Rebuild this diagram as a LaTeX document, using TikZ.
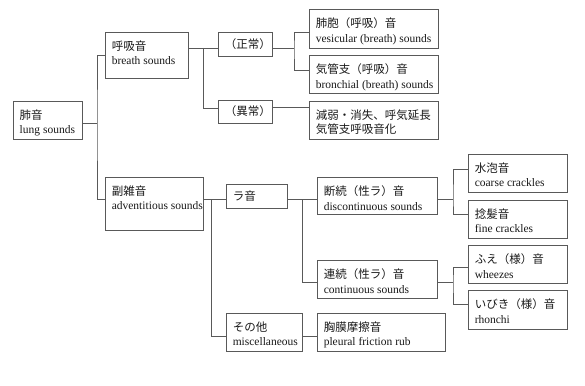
\documentclass[tikz,border=0pt]{standalone}
\usepackage{fontspec}
\setmainfont{Liberation Serif}
\newfontfamily\jp{Noto Sans CJK JP}
\newcommand\mybox[7]{%
  \node[box, minimum width={(#4-#2)*1pt}, minimum height={(#5-#3)*1pt}] (#1) at ({(#2+#4)/2},{(#3+#5)/2}) {};
  \node[txt, anchor=north west] (#1t) at ([xshift=7pt,yshift=-9pt]#1.north west) {#6\\#7};}
\newcommand\myone[6]{%
  \node[box, minimum width={(#4-#2)*1pt}, minimum height={(#5-#3)*1pt}] (#1) at ({(#2+#4)/2},{(#3+#5)/2}) {};
  \node[txt, anchor=west] (#1t) at ([xshift=7pt]#1.west) {#6};}
\begin{document}
\begin{tikzpicture}[x=1pt,y=-1pt,
  box/.style={draw=black!65, line width=0.9pt, inner sep=0pt},
  txt/.style={inner sep=0pt, align=left, font=\fontsize{11.5}{14.5}\selectfont, text=black!90},
  conn/.style={draw=black!65, line width=0.9pt}]
\useasboundingbox[fill=white] (0,0) rectangle (585,385);
\mybox{lung}{13}{101}{82}{139}{{\jp 肺音}}{lung sounds}
\mybox{breath}{105}{32}{188}{78}{{\jp 呼吸音}}{breath sounds}
\mybox{advent}{105}{177}{203}{230}{{\jp 副雑音}}{adventitious sounds}
\myone{normal}{218}{32}{272}{56}{{\jp （正常）}}
\myone{abnormal}{218}{100}{272}{123}{{\jp （異常）}}
\mybox{vesic}{309}{9}{438}{48}{{\jp 肺胞（呼吸）音}}{vesicular (breath) sounds}
\mybox{bronch}{309}{55}{438}{93}{{\jp 気管支（呼吸）音}}{bronchial (breath) sounds}
\mybox{decr}{309}{101}{438}{139}{{\jp 減弱・消失、呼気延長}}{{\jp 気管支呼吸音化}}
\myone{rale}{226}{184}{287}{208}{{\jp ラ音}}
\mybox{other}{226}{313}{302}{351}{{\jp その他}}{miscellaneous}
\mybox{discont}{317}{177}{437}{214}{{\jp 断続（性ラ）音}}{discontinuous sounds}
\mybox{cont}{317}{260}{437}{298}{{\jp 連続（性ラ）音}}{continuous sounds}
\mybox{pleural}{317}{313}{445}{351}{{\jp 胸膜摩擦音}}{pleural friction rub}
\mybox{coarse}{468}{154}{567}{192}{{\jp 水泡音}}{coarse crackles}
\mybox{fine}{468}{200}{567}{238}{{\jp 捻髪音}}{fine crackles}
\mybox{wheeze}{468}{245}{567}{283}{{\jp ふえ（様）音}}{wheezes}
\mybox{rhonchi}{468}{290}{567}{329}{{\jp いびき（様）音}}{rhonchi}
% junctions
\coordinate (j1) at (97,123);
\coordinate (j2) at (203,48);
\coordinate (j3) at (294,48);
\coordinate (j4) at (211,199);
\coordinate (j5) at (302,199);
\coordinate (j6) at (453,199);
\coordinate (j7) at (453,282);
\coordinate (y1) at (0,55);
\coordinate (y2) at (0,199);
\coordinate (y3) at (0,108);
\coordinate (y4) at (0,32);
\coordinate (y5) at (0,70);
\coordinate (y6) at (0,107);
\coordinate (y7) at (0,336);
\coordinate (y8) at (0,282);
\coordinate (y9) at (0,169);
\coordinate (y10) at (0,214);
\coordinate (y11) at (0,267);
\coordinate (y12) at (0,304);
% connectors
\draw[conn] (lung.east |- j1) -- (j1);
\draw[conn] (breath.west |- y1) -| (j1) |- (advent.west |- y2);
\draw[conn] (breath.east |- j2) -- (normal.west |- j2);
\draw[conn] (j2) |- (abnormal.west |- y3);
\draw[conn] (normal.east |- j3) -- (j3);
\draw[conn] (vesic.west |- y4) -| (j3) |- (bronch.west |- y5);
\draw[conn] (abnormal.east |- y6) -- (decr.west |- y6);
\draw[conn] (advent.east |- j4) -- (rale.west |- j4);
\draw[conn] (j4) |- (other.west |- y7);
\draw[conn] (rale.east |- j5) -- (discont.west |- j5);
\draw[conn] (j5) |- (cont.west |- y8);
\draw[conn] (other.east |- y7) -- (pleural.west |- y7);
\draw[conn] (discont.east |- j6) -- (j6);
\draw[conn] (coarse.west |- y9) -| (j6) |- (fine.west |- y10);
\draw[conn] (cont.east |- j7) -- (j7);
\draw[conn] (wheeze.west |- y11) -| (j7) |- (rhonchi.west |- y12);
\end{tikzpicture}
\end{document}
